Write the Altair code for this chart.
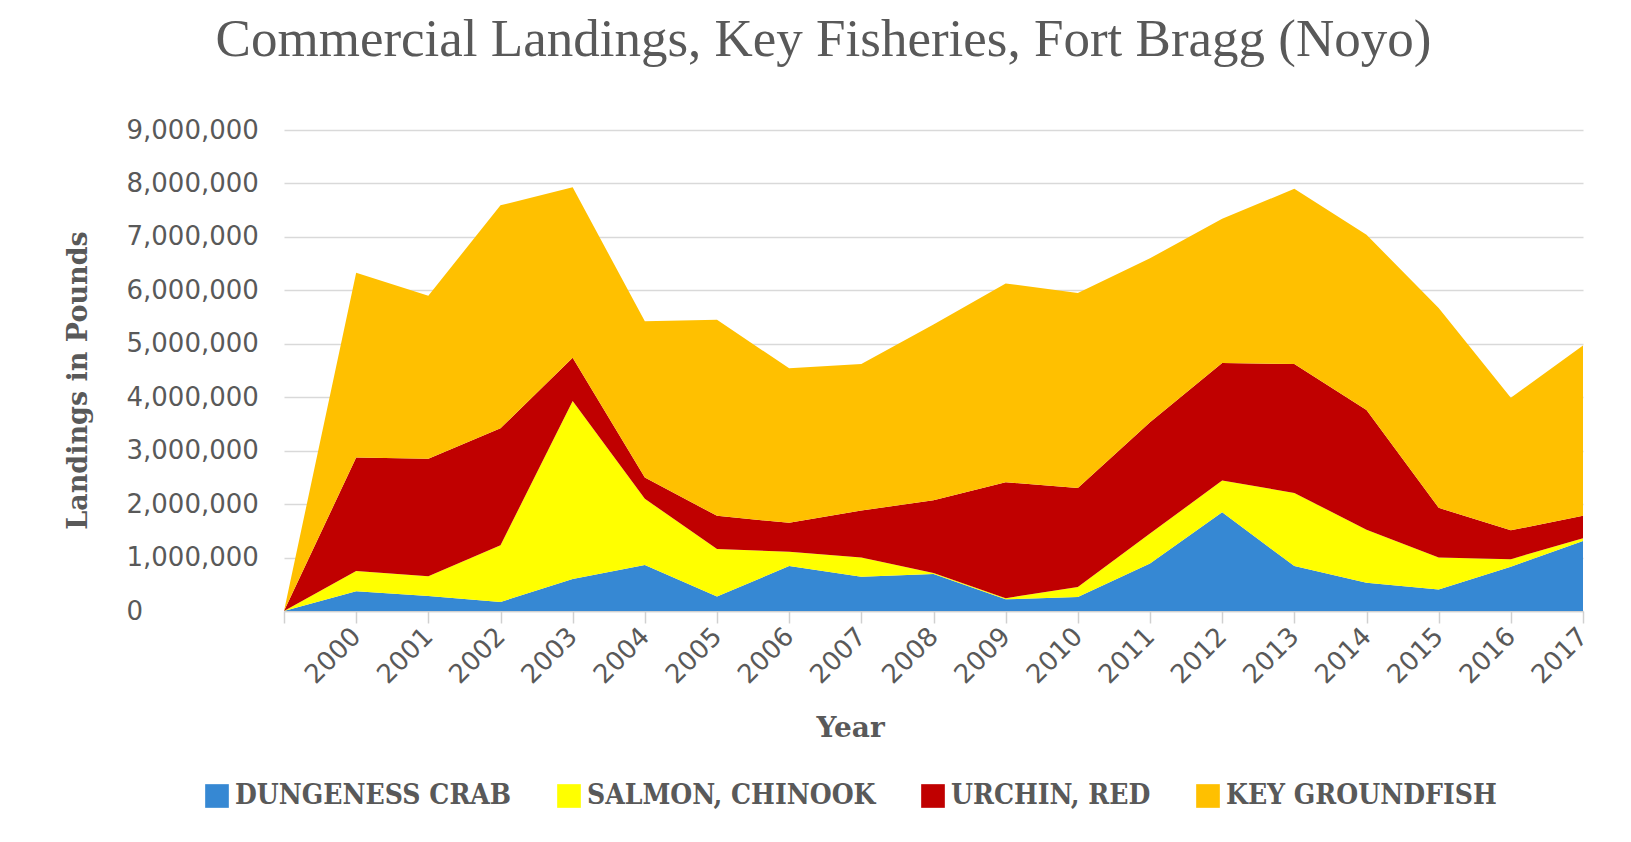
import altair as alt
import pandas as pd

years = ["", "2000", "2001", "2002", "2003", "2004", "2005", "2006", "2007", "2008",
         "2009", "2010", "2011", "2012", "2013", "2014", "2015", "2016", "2017"]
series = ["DUNGENESS CRAB", "SALMON, CHINOOK", "URCHIN, RED", "KEY GROUNDFISH"]
colors = ["#3688d3", "#ffff00", "#c00000", "#ffc000"]

crab = [0, 370000, 280000, 170000, 600000, 860000, 270000, 840000, 640000, 690000,
        220000, 260000, 890000, 1850000, 840000, 530000, 400000, 830000, 1310000]
salmon = [0, 380000, 370000, 1060000, 3330000, 1240000, 890000, 270000, 360000, 20000,
          20000, 190000, 560000, 590000, 1370000, 990000, 600000, 140000, 50000]
urchin = [0, 2120000, 2200000, 2190000, 810000, 400000, 620000, 540000, 880000, 1360000,
          2170000, 1850000, 2080000, 2200000, 2410000, 2240000, 930000, 540000, 420000]
groundfish = [0, 3460000, 3050000, 4170000, 3190000, 2920000, 3670000, 2890000, 2740000, 3290000,
              3720000, 3650000, 3070000, 2700000, 3280000, 3280000, 3740000, 2480000, 3190000]

rows = []
for k, (name, vals) in enumerate(zip(series, [crab, salmon, urchin, groundfish])):
    for y, v in zip(years, vals):
        rows.append({"Year": y, "Series": name, "Pounds": v, "order": k})
df = pd.DataFrame(rows)

GRAY = "#595959"

chart = alt.Chart(df).mark_area(opacity=1).encode(
    x=alt.X("Year:N", sort=years,
            scale=alt.Scale(type="point", padding=0),
            axis=alt.Axis(title="Year", labelAngle=-45, labelAlign="right", labelBaseline="middle",
                          labelFont="DejaVu Sans", labelFontSize=26, labelColor=GRAY,
                          labelPadding=9, ticks=True, tickSize=12, tickColor="#d0d0d0",
                          tickWidth=1.5, domainColor="#d0d0d0", domainWidth=1.5,
                          grid=False, labelOverlap=False,
                          titleFont="DejaVu Serif", titleFontWeight="bold", titleFontSize=28,
                          titleColor=GRAY, titleX=566, titleY=117, titleBaseline="middle",
                          titleAlign="center")),
    y=alt.Y("Pounds:Q", stack="zero",
            scale=alt.Scale(domain=[0, 9000000], nice=False),
            axis=alt.Axis(title="Landings in Pounds", values=[i * 1000000 for i in range(10)],
                          format=",d", labelAlign="left", labelBaseline="middle",
                          labelFont="DejaVu Sans", labelFontSize=26, labelColor=GRAY,
                          labelPadding=158, ticks=False, tickSize=0, domain=False,
                          grid=True, gridColor="#d9d9d9", gridWidth=1.5,
                          titleFont="DejaVu Serif", titleFontWeight="bold", titleFontSize=27,
                          titleColor=GRAY, titleX=-206, titleY=250, titleBaseline="middle",
                          titleAlign="center", titleAngle=-90)),
    color=alt.Color("Series:N", sort=series,
                    scale=alt.Scale(domain=series, range=colors),
                    legend=alt.Legend(title=None, orient="none", direction="horizontal",
                                      legendX=-81, legendY=652,
                                      symbolType="square", symbolSize=560, symbolStrokeWidth=0,
                                      symbolOpacity=1,
                                      labelFont="DejaVu Serif Condensed", labelFontWeight="bold",
                                      labelFontSize=28, labelColor=GRAY, labelOffset=4,
                                      columnPadding=43, labelLimit=400)),
    order=alt.Order("order:Q"),
).properties(
    width=1299,
    height=481,
    title=alt.TitleParams("Commercial Landings, Key Fisheries, Fort Bragg (Noyo)",
                          font="Liberation Serif", fontSize=53, fontWeight="normal",
                          color=GRAY, anchor="middle", dx=-110, offset=50),
    autosize=alt.AutoSizeParams(type="none"),
    padding={"left": 276, "top": 122, "right": 40, "bottom": 205},
).configure_view(stroke=None)

chart.save("out.html", embed_options={"renderer": "svg", "actions": False})
